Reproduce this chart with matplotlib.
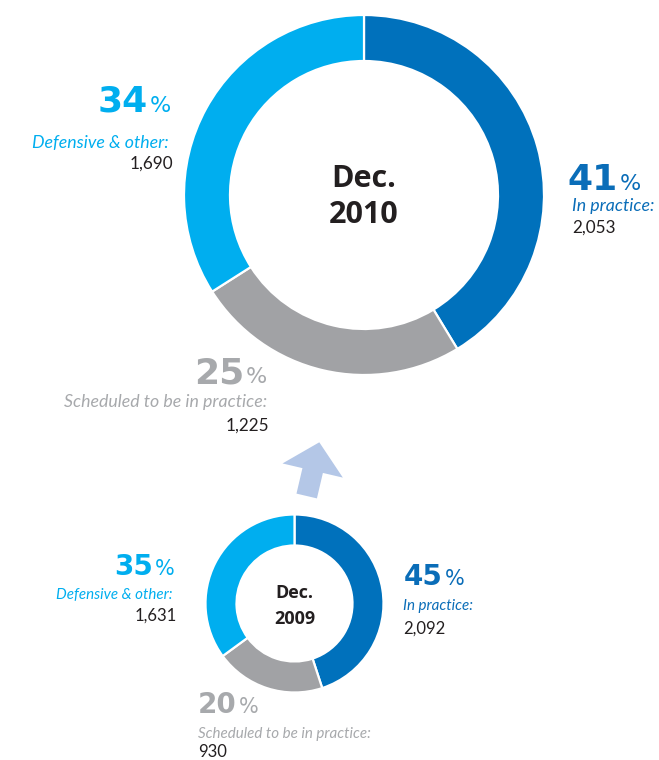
"""Two donut charts: status of items, Dec. 2010 vs Dec. 2009."""

import matplotlib

matplotlib.use("Agg")
import matplotlib.pyplot as plt
from matplotlib.patches import FancyArrow

W, H = 659, 760

CATEGORIES = ["In practice:", "Scheduled to be in practice:", "Defensive & other:"]
COUNTS_2010 = [2053, 1225, 1690]
COUNTS_2009 = [2092, 930, 1631]
YEARS = ["2010", "2009"]

WEDGE_COLORS = ["#0071bc", "#a1a2a5", "#00aeef"]
TEXT_COLORS = ["#0a6db8", "#a7a9ac", "#00aeef"]
COUNT_COLOR = "#231f20"
ARROW_COLOR = "#b4c7e7"

LABEL_FONT = "Lato"
TITLE_FONT = "Open Sans"


def Y(py):
    # layout numbers are in image pixels (origin top-left)
    return H - py


def draw_donut(ax, counts, cx, cy, r_out, r_in, year, title_size, dec_base, year_base):
    ax.pie(
        counts,
        colors=WEDGE_COLORS,
        startangle=90,
        counterclock=False,
        center=(cx, Y(cy)),
        radius=r_out,
        wedgeprops=dict(width=r_out - r_in, edgecolor="white", linewidth=1.6),
        frame=True,
    )
    ax.text(cx, Y(dec_base), "Dec.", ha="center", va="baseline", fontsize=title_size,
            fontweight="bold", family=TITLE_FONT, color=COUNT_COLOR)
    ax.text(cx, Y(year_base), year, ha="center", va="baseline", fontsize=title_size,
            fontweight="bold", family=TITLE_FONT, color=COUNT_COLOR)


def draw_label(ax, i, counts, spec, sizes):
    num_size, pct_size, lab_size, cnt_size = sizes
    pct = round(100 * counts[i] / sum(counts))
    color = TEXT_COLORS[i]
    num_right, pct_left, pct_base = spec["num"]
    ax.text(num_right, Y(pct_base), f"{pct}", ha="right", va="baseline", fontsize=num_size,
            fontweight="bold", family="DejaVu Sans", color=color)
    ax.text(pct_left, Y(pct_base), "%", ha="left", va="baseline", fontsize=pct_size,
            family="DejaVu Sans", color=color)
    lx, lha, lbase = spec["label"]
    ax.text(lx, Y(lbase), CATEGORIES[i], ha=lha, va="baseline", fontsize=lab_size,
            style="italic", family=LABEL_FONT, color=color)
    cx_, cha, cbase = spec["count"]
    ax.text(cx_, Y(cbase), f"{counts[i]:,}", ha=cha, va="baseline", fontsize=cnt_size,
            family=LABEL_FONT, color=COUNT_COLOR)


fig = plt.figure(figsize=(W / 100, H / 100), dpi=100)
ax = fig.add_axes([0, 0, 1, 1])
ax.set_xlim(0, W)
ax.set_ylim(0, H)
ax.set_aspect("equal")
ax.axis("off")

# Dec. 2010 (large)
draw_donut(ax, COUNTS_2010, 364, 195, 180, 134, YEARS[0], 22, 187, 223)
big_specs = [
    {"num": (618, 620, 190), "label": (572, "left", 211), "count": (572, "left", 233)},
    {"num": (244, 246, 383), "label": (267, "right", 407), "count": (269, "right", 431)},
    {"num": (148, 150, 112), "label": (169, "right", 148), "count": (173, "right", 169)},
]
for i, spec in enumerate(big_specs):
    draw_label(ax, i, COUNTS_2010, spec, (26, 16, 12.8, 12.3))

# Dec. 2009 (small)
draw_donut(ax, COUNTS_2009, 294.5, 603.5, 89, 58, YEARS[1], 13, 598, 624)
small_specs = [
    {"num": (443, 445, 585), "label": (403, "left", 610), "count": (403, "left", 634)},
    {"num": (237, 239, 713), "label": (198, "left", 738), "count": (198, "left", 757)},
    {"num": (153, 155, 575), "label": (173, "right", 599), "count": (177, "right", 621)},
]
for i, spec in enumerate(small_specs):
    draw_label(ax, i, COUNTS_2009, spec, (20, 15, 10.9, 12))

# arrow from small to big chart
ax.add_patch(FancyArrow(306.7, Y(496), 12.6, 53.7, width=21, head_width=62, head_length=29,
                        length_includes_head=True, color=ARROW_COLOR, linewidth=0))

ax.set_xlim(0, W)
ax.set_ylim(0, H)
fig.savefig("out.png", dpi=100, facecolor="white")
